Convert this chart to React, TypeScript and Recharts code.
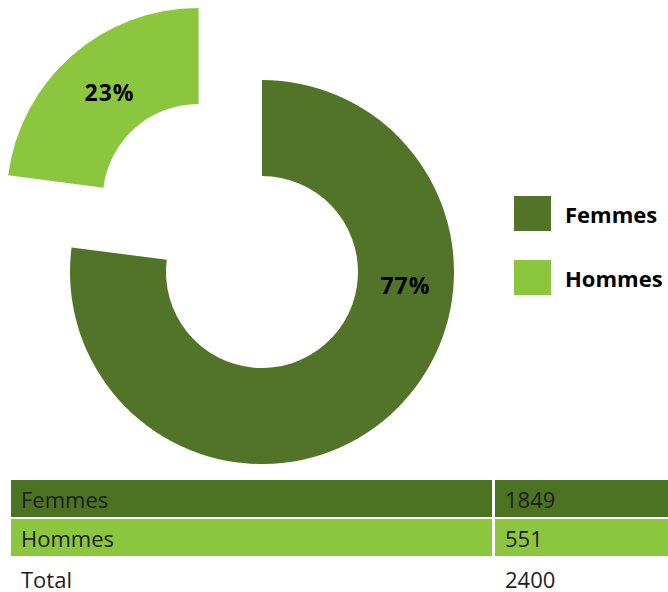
import React from 'react';
import { PieChart, Pie, Cell, Legend } from 'recharts';

const categories = ['Femmes', 'Hommes'];
const counts = [1849, 551];
const colors = ['#527428', '#8cc63f'];
const rowColors = ['#4b7322', '#8cc63f'];
const totalLabel = 'Total';

const total = counts.reduce((a, b) => a + b, 0);
const data = categories.map((name, i) => ({ name, value: counts[i] }));

const RADIAN = Math.PI / 180;
const FONT = '"Open Sans", "Noto Sans", sans-serif';

// which slice is pulled out of the ring
const explodedIndex = 1;
const explode = 96;
const CX = 262;
const CY = 272;

// mid angle of the exploded slice (recharts degrees, start 90, clockwise)
const before = counts.slice(0, explodedIndex).reduce((a, b) => a + b, 0);
const midExploded = 90 - (360 * (before + counts[explodedIndex] / 2)) / total;
const ECX = CX + explode * Math.cos(midExploded * RADIAN);
const ECY = CY - explode * Math.sin(midExploded * RADIAN);

// Excel's best-fit places the big slice label on the right side
const labelAngle: Record<string, number> = { Femmes: -5 };

const makeLabel = (onlyIndex: number) => (props: any) => {
  const { cx, cy, midAngle, innerRadius, outerRadius, percent, index, name } = props;
  if (index !== onlyIndex) return null;
  const a = labelAngle[name] ?? midAngle;
  const r = (innerRadius + outerRadius) / 2;
  const x = cx + r * Math.cos(-a * RADIAN) + (index === explodedIndex ? 6 : 0);
  const y = cy + r * Math.sin(-a * RADIAN);
  return (
    <text
      x={x}
      y={y}
      textAnchor="middle"
      dominantBaseline="central"
      fill="#000"
      fontFamily={FONT}
      fontWeight={700}
      fontSize={23}
      letterSpacing={1}
    >
      {Math.round(percent * 100)}%
    </text>
  );
};

const LegendContent = () => (
  <div style={{ fontFamily: FONT }}>
    {categories.map((c, i) => (
      <div key={c} style={{ display: 'flex', alignItems: 'center', height: 35, marginBottom: i === 0 ? 29 : 0 }}>
        <div style={{ width: 37, height: 35, background: colors[i], marginRight: 14 }} />
        <span style={{ fontSize: 22, fontWeight: 700, color: '#000' }}>{c}</span>
      </div>
    ))}
  </div>
);

const cellText: React.CSSProperties = {
  fontFamily: FONT,
  fontSize: 22,
  color: '#1e1e1e',
  paddingLeft: 10,
  display: 'flex',
  alignItems: 'center',
  boxSizing: 'border-box',
  height: 37,
};

export default function App() {
  return (
    <div style={{ position: 'absolute', left: 0, top: 0, width: 668, height: 592, background: '#fff' }}>
      <PieChart width={668} height={472} margin={{ top: 0, right: 0, bottom: 0, left: 0 }}>
        <Pie
          data={data}
          dataKey="value"
          nameKey="name"
          cx={CX}
          cy={CY}
          innerRadius={96}
          outerRadius={192}
          startAngle={90}
          endAngle={-270}
          stroke="none"
          labelLine={false}
          label={makeLabel(0)}
          isAnimationActive={false}
        >
          {data.map((d, i) => (
            <Cell key={d.name} fill={i === explodedIndex ? 'none' : colors[i]} />
          ))}
        </Pie>
        <Pie
          data={data}
          dataKey="value"
          nameKey="name"
          cx={ECX}
          cy={ECY}
          innerRadius={96}
          outerRadius={192}
          startAngle={90}
          endAngle={-270}
          stroke="none"
          labelLine={false}
          label={makeLabel(explodedIndex)}
          isAnimationActive={false}
        >
          {data.map((d, i) => (
            <Cell key={d.name} fill={i === explodedIndex ? colors[i] : 'none'} />
          ))}
        </Pie>
        <Legend
          layout="vertical"
          content={<LegendContent />}
          wrapperStyle={{ position: 'absolute', left: 514, top: 196, width: 154, bottom: 'auto' }}
        />
      </PieChart>
      <div style={{ position: 'absolute', left: 11, top: 480, width: 657 }}>
        {categories.map((c, i) => (
          <div key={c} style={{ display: 'flex', marginBottom: 2 }}>
            <div style={{ ...cellText, width: 481, background: rowColors[i] }}>{c}</div>
            <div style={{ ...cellText, width: 173, marginLeft: 3, background: rowColors[i] }}>{counts[i]}</div>
          </div>
        ))}
        <div style={{ display: 'flex' }}>
          <div style={{ ...cellText, width: 481, paddingTop: 4 }}>{totalLabel}</div>
          <div style={{ ...cellText, width: 173, marginLeft: 3, paddingTop: 4 }}>{total}</div>
        </div>
      </div>
    </div>
  );
}
